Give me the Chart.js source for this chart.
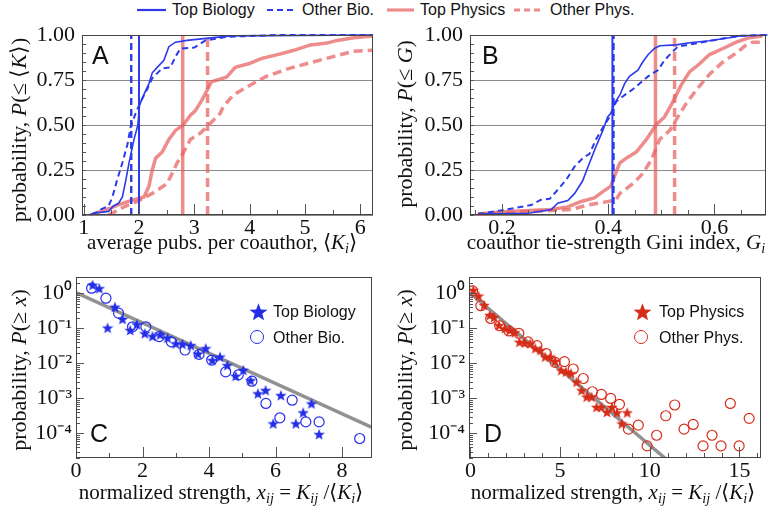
<!DOCTYPE html>
<html>
<head>
<meta charset="utf-8">
<script src="https://cdn.jsdelivr.net/npm/chart.js@4.4.0/dist/chart.umd.min.js"></script>
<style>
  body { margin: 0; background: #fff; }
  #wrap { position: relative; width: 768px; height: 509px; overflow: hidden; font-family: "Liberation Serif", serif; color: #111; }
  #wrap canvas.chart { position: absolute; }
  .t { position: absolute; white-space: nowrap; line-height: 1; }
  .serif { font-family: "Liberation Serif", serif; font-size: 21px; }
  .ser22 { font-family: "Liberation Serif", serif; font-size: 22px; }
  .sans { font-family: "Liberation Sans", Arial, sans-serif; font-size: 16px; }
  .letter { font-family: "Liberation Sans", Arial, sans-serif; font-size: 25px; }
  .yt { transform: translate(-50%, -50%) rotate(-90deg); }
  .xt { transform: translate(-50%, -50%); }
  .lt { transform: translateY(-50%); }
  sub { font-size: 68%; vertical-align: -0.3em; line-height: 0; }
</style>
</head>
<body>
<div id="wrap"></div>
<script>
// ---- data ----
// panel A: cumulative distribution of average pubs per coauthor
const aTopBio = [[1.1,0],[1.17,0.01],[1.45,0.02],[1.54,0.05],[1.63,0.065],[1.70,0.10],[1.76,0.19],[1.82,0.29],[1.91,0.42],[1.98,0.50],[2.01,0.61],[2.09,0.67],[2.18,0.73],[2.24,0.79],[2.33,0.82],[2.45,0.86],[2.54,0.935],[2.66,0.96],[2.87,0.97],[3.17,0.98],[3.66,0.995],[6.23,1.0]];
const aOtherBio = [[1.15,0],[1.30,0.03],[1.45,0.05],[1.52,0.10],[1.61,0.20],[1.70,0.29],[1.79,0.39],[1.85,0.49],[1.94,0.565],[2.03,0.63],[2.15,0.70],[2.24,0.76],[2.42,0.815],[2.57,0.82],[2.66,0.88],[2.75,0.925],[3.0,0.93],[3.2,0.97],[3.6,0.99],[4.5,1.0],[6.23,1.0]];
const aTopPhys = [[1.14,0],[1.3,0.02],[1.5,0.04],[1.61,0.055],[1.85,0.08],[2.09,0.10],[2.18,0.16],[2.24,0.25],[2.30,0.315],[2.42,0.35],[2.54,0.42],[2.66,0.47],[2.80,0.50],[2.93,0.555],[3.02,0.58],[3.14,0.64],[3.26,0.71],[3.31,0.74],[3.58,0.765],[3.74,0.82],[3.98,0.84],[4.22,0.87],[4.56,0.895],[4.80,0.915],[5.10,0.945],[5.40,0.955],[5.58,0.97],[5.88,0.985],[6.23,0.995]];
const aOtherPhys = [[1.45,0],[1.73,0.045],[2.0,0.08],[2.24,0.12],[2.51,0.175],[2.69,0.29],[2.81,0.35],[2.93,0.42],[3.11,0.455],[3.26,0.50],[3.47,0.565],[3.52,0.60],[3.70,0.665],[4.00,0.72],[4.30,0.77],[4.72,0.815],[5.15,0.85],[5.51,0.88],[5.88,0.91],[6.23,0.915]];
const aMedians = [2.0, 1.86, 2.79, 3.24];   // Top Bio, Other Bio, Top Phys, Other Phys

// panel B: cumulative distribution of Gini index
const bTopBio = [[0.155,0.005],[0.25,0.01],[0.293,0.03],[0.305,0.065],[0.324,0.08],[0.337,0.12],[0.352,0.19],[0.365,0.29],[0.377,0.38],[0.39,0.47],[0.399,0.545],[0.405,0.565],[0.412,0.62],[0.422,0.667],[0.431,0.73],[0.44,0.77],[0.456,0.805],[0.465,0.85],[0.475,0.89],[0.487,0.925],[0.497,0.94],[0.528,0.945],[0.553,0.957],[0.59,0.968],[0.628,0.985],[0.647,0.995],[0.70,1.0]];
const bOtherBio = [[0.155,0.005],[0.217,0.035],[0.255,0.055],[0.274,0.085],[0.29,0.09],[0.305,0.14],[0.321,0.195],[0.337,0.27],[0.352,0.315],[0.365,0.34],[0.377,0.42],[0.393,0.50],[0.405,0.555],[0.415,0.63],[0.428,0.66],[0.447,0.70],[0.475,0.77],[0.494,0.805],[0.506,0.86],[0.519,0.90],[0.531,0.935],[0.572,0.957],[0.616,0.98],[0.647,0.995],[0.70,1.0]];
const bTopPhys = [[0.155,0.005],[0.211,0.02],[0.292,0.03],[0.324,0.045],[0.349,0.075],[0.374,0.095],[0.39,0.13],[0.405,0.16],[0.415,0.24],[0.422,0.29],[0.434,0.315],[0.453,0.35],[0.472,0.42],[0.49,0.50],[0.506,0.545],[0.522,0.63],[0.537,0.72],[0.553,0.795],[0.572,0.84],[0.59,0.89],[0.616,0.925],[0.641,0.96],[0.666,0.985],[0.69,0.995]];
const bOtherPhys = [[0.155,0.005],[0.33,0.03],[0.361,0.055],[0.40,0.075],[0.415,0.085],[0.422,0.12],[0.447,0.175],[0.465,0.23],[0.481,0.305],[0.497,0.42],[0.516,0.47],[0.528,0.53],[0.547,0.62],[0.566,0.695],[0.59,0.78],[0.616,0.85],[0.641,0.90],[0.66,0.945],[0.672,0.96],[0.697,0.96]];
const bMedians = [0.408, 0.41, 0.489, 0.525];

// panel C: biology tie strength ccdf
const cTopBio = [[0.50,1.73],[0.70,1.39],[0.95,0.104],[1.17,0.41],[1.40,0.185],[1.63,0.089],[1.83,0.13],[2.07,0.072],[2.30,0.060],[2.53,0.067],[2.75,0.054],[3.00,0.037],[3.20,0.036],[3.45,0.033],[3.67,0.019],[3.90,0.027],[4.10,0.0124],[4.33,0.0155],[4.55,0.0089],[4.80,0.0044],[5.03,0.0065],[5.25,0.0033],[5.47,0.00139],[5.70,0.00173],[5.93,0.000194],[6.16,0.00124],[6.61,0.000194],[6.83,0.0004],[7.08,0.00072],[7.31,0.000096]];
const cOtherBio = [[0.47,1.39],[0.90,0.72],[1.28,0.27],[1.70,0.11],[2.10,0.11],[2.50,0.058],[2.87,0.041],[3.28,0.024],[3.70,0.018],[4.08,0.0124],[4.50,0.0057],[4.88,0.0047],[5.29,0.0031],[5.71,0.00072],[6.13,0.00028],[6.50,0.00089],[6.91,0.000214],[7.31,0.000214],[8.53,0.000072]];
const cFit = [[0,1.05],[8.9,0.00015]];

// panel D: physics tie strength ccdf
const dTopPhys = [[0.16,1.24],[0.45,0.85],[0.76,0.46],[1.08,0.24],[1.32,0.21],[1.59,0.124],[1.92,0.10],[2.20,0.089],[2.48,0.077],[2.73,0.041],[3.03,0.039],[3.34,0.037],[3.62,0.027],[3.90,0.024],[4.17,0.0155],[4.45,0.0155],[4.72,0.0117],[5.06,0.0064],[5.33,0.0058],[5.61,0.0052],[5.92,0.0030],[6.20,0.00172],[6.48,0.00112],[6.75,0.00112],[7.03,0.00057],[7.30,0.00057],[7.61,0.00041],[7.89,0.00057],[8.17,0.0004],[8.44,0.000194],[8.74,0.0004]];
const dOtherPhys = [[0.12,1.16],[0.58,0.44],[1.13,0.19],[1.63,0.118],[2.15,0.084],[2.70,0.072],[3.21,0.041],[3.71,0.032],[4.23,0.019],[4.72,0.0107],[5.24,0.0112],[5.73,0.0069],[6.29,0.0037],[6.80,0.00155],[7.30,0.0013],[7.82,0.001],[8.31,0.00068],[8.81,0.000133],[9.36,0.000173],[9.85,0.0000443],[10.38,0.000089],[10.89,0.00032],[11.39,0.00065],[11.91,0.000133],[12.42,0.000181],[12.97,0.0000443],[13.47,0.000089],[13.97,0.0000443],[14.49,0.00072],[14.98,0.0000443],[15.54,0.00027]];
const dFit = [[0,1.0],[11.0,0.000017]];

// tick labels
const probTicks = [0, 0.25, 0.5, 0.75, 1];
const logTicks = [1e-4, 1e-3, 1e-2, 1e-1, 1];
const logTickText = ['10\u207B\u2074', '10\u207B\u00B3', '10\u207B\u00B2', '10\u207B\u00B9', '10\u2070'];
const aTicks = [1, 2, 3, 4, 5, 6];
const bTicks = [0.2, 0.4, 0.6];
const cTicks = [0, 2, 4, 6, 8];
const dTicks = [0, 5, 10, 15];

// ---- styling ----
const BLUE = 'rgb(45,58,235)';
const SALMON = 'rgba(232,95,95,0.72)';
const DOT_BLUE = 'rgb(35,45,232)';
const DOT_RED = 'rgb(214,45,25)';
const GREY = 'rgba(140,140,140,0.95)';
const tickFont = { family: 'Liberation Serif', size: 22 };

const wrap = document.getElementById('wrap');

function pts(arr) { return arr.map(p => ({ x: p[0], y: p[1] })); }

function starImg(size, color) {
  const c = document.createElement('canvas');
  c.width = c.height = size;
  const g = c.getContext('2d');
  const cx = size / 2, cy = size / 2 + size * 0.06, R = size / 2, r = R * 0.42;
  g.fillStyle = color;
  g.beginPath();
  for (let i = 0; i < 10; i++) {
    const a = -Math.PI / 2 + i * Math.PI / 5;
    const rad = i % 2 ? r : R;
    g.lineTo(cx + rad * Math.cos(a), cy + rad * Math.sin(a));
  }
  g.closePath();
  g.fill();
  return c;
}

// frame + inward ticks like the original figure
const frameTicks = {
  id: 'frameTicks',
  afterDraw(chart, args, o) {
    const { ctx, chartArea: a, scales } = chart;
    const xs = scales.x, ys = scales.y;
    ctx.save();
    ctx.strokeStyle = '#555';
    ctx.lineWidth = 1;
    ctx.beginPath();
    for (let i = 0; ; i++) {
      const v = o.xFrom + i * o.xMinor;
      if (v > xs.max + 1e-9) break;
      if (v < xs.min) continue;
      const p = Math.round(xs.getPixelForValue(v)) + 0.5;
      const r = v / o.xMajor;
      const len = Math.abs(r - Math.round(r)) < 1e-6 ? 11 : 5;
      ctx.moveTo(p, a.bottom); ctx.lineTo(p, a.bottom - len);
    }
    if (o.log) {
      for (let d = -5; d <= 0; d++) {
        for (let k = 1; k <= 9; k++) {
          const v = k * Math.pow(10, d);
          if (v < ys.min || v > ys.max) continue;
          const p = Math.round(ys.getPixelForValue(v)) + 0.5;
          const len = k === 1 ? 8 : 4;
          ctx.moveTo(a.left, p); ctx.lineTo(a.left + len, p);
        }
      }
    } else {
      for (let i = 0; i <= 20; i++) {
        const v = i * 0.05;
        const p = Math.round(ys.getPixelForValue(v)) + 0.5;
        ctx.moveTo(a.left, p); ctx.lineTo(a.left + 4, p);
      }
    }
    ctx.stroke();
    ctx.strokeStyle = '#444';
    ctx.strokeRect(a.left + 0.5, a.top + 0.5, a.width - 1, a.height - 1);
    ctx.restore();
  }
};

function makeChart(box, datasets, sx, sy, tickOpts) {
  const c = document.createElement('canvas');
  c.className = 'chart';
  c.width = box.w; c.height = box.h;
  c.style.left = box.x + 'px'; c.style.top = box.y + 'px';
  wrap.appendChild(c);
  new Chart(c, {
    type: 'scatter',
    data: { datasets: datasets },
    plugins: [frameTicks],
    options: {
      responsive: false,
      animation: false,
      layout: { padding: { top: box.pt, right: box.pr, left: 0, bottom: 0 } },
      plugins: { legend: { display: false }, tooltip: { enabled: false }, frameTicks: tickOpts },
      scales: {
        x: {
          type: 'linear', min: sx.min, max: sx.max,
          afterBuildTicks: s => { s.ticks = sx.ticks.map(v => ({ value: v })); },
          afterFit: s => { s.height = box.xh; s.paddingLeft = 0; s.paddingRight = 0; },
          grid: { display: false, drawTicks: false },
          border: { display: false },
          ticks: { font: tickFont, color: '#111', padding: 0, maxRotation: 0, autoSkip: false,
                   callback: v => String(v) }
        },
        y: {
          type: sy.log ? 'logarithmic' : 'linear', min: sy.min, max: sy.max,
          afterBuildTicks: s => { s.ticks = sy.ticks.map(v => ({ value: v })); },
          afterFit: s => { s.width = box.yw; s.paddingTop = 0; s.paddingBottom = 0; },
          grid: { display: !sy.log, drawTicks: false, color: '#8a8a8a', lineWidth: 1 },
          border: { display: false },
          ticks: { font: tickFont, color: '#111', padding: sy.log ? 4 : 7, autoSkip: false,
                   callback: sy.label }
        }
      }
    }
  });
}

function cdfSets(top1, oth1, top2, oth2, med) {
  const line = (d, color, w, dash) => ({
    data: pts(d), showLine: true, borderColor: color, borderWidth: w, borderDash: dash,
    pointRadius: 0, fill: false, tension: 0, clip: 3
  });
  const vline = (x, color, w, dash) => line([[x, 0], [x, 1]], color, w, dash);
  return [
    line(top1, BLUE, 1.6, []),
    line(oth1, BLUE, 2, [6, 4]),
    vline(med[0], BLUE, 2, []),
    vline(med[1], BLUE, 2.4, [7, 4]),
    line(top2, SALMON, 3.5, []),
    line(oth2, SALMON, 3.5, [9, 5]),
    vline(med[2], SALMON, 3.5, []),
    vline(med[3], SALMON, 3.5, [9, 5])
  ];
}

function scatterSets(topD, othD, fit, color) {
  return [
    { data: pts(topD), pointStyle: starImg(12, color), pointRadius: 6, showLine: false },
    { data: pts(othD), pointStyle: 'circle', pointRadius: 5, borderColor: color, borderWidth: 1.2,
      backgroundColor: 'rgba(0,0,0,0)', showLine: false },
    { data: pts(fit), showLine: true, pointRadius: 0, borderColor: GREY, borderWidth: 3.5, clip: 0 }
  ];
}

const probLabel = v => v.toFixed(2);
const logLabel = v => { const i = logTicks.findIndex(t => Math.abs(t - v) / t < 1e-6); return i < 0 ? null : logTickText[i]; };

// panel A
makeChart({ x: 0, y: 25, w: 384, h: 225, pt: 10, pr: 11, yw: 82, xh: 35 },
  cdfSets(aTopBio, aOtherBio, aTopPhys, aOtherPhys, aMedians),
  { min: 0.97, max: 6.23, ticks: aTicks },
  { min: 0, max: 1, ticks: probTicks, label: probLabel },
  { xFrom: 1, xMinor: 0.5, xMajor: 1 });

// panel B
makeChart({ x: 384, y: 25, w: 384, h: 225, pt: 10, pr: 2, yw: 86, xh: 35 },
  cdfSets(bTopBio, bOtherBio, bTopPhys, bOtherPhys, bMedians),
  { min: 0.14, max: 0.697, ticks: bTicks },
  { min: 0, max: 1, ticks: probTicks, label: probLabel },
  { xFrom: 0.15, xMinor: 0.05, xMajor: 0.2 });

// panel C
makeChart({ x: 0, y: 260, w: 384, h: 230, pt: 17, pr: 12, yw: 76, xh: 32 },
  scatterSets(cTopBio, cOtherBio, cFit, DOT_BLUE),
  { min: 0, max: 8.9, ticks: cTicks },
  { log: true, min: 2e-5, max: 2.9, ticks: logTicks, label: logLabel },
  { xFrom: 0, xMinor: 1, xMajor: 2, log: true });

// panel D
makeChart({ x: 384, y: 260, w: 384, h: 230, pt: 17, pr: 4, yw: 85, xh: 32 },
  scatterSets(dTopPhys, dOtherPhys, dFit, DOT_RED),
  { min: -0.08, max: 16.2, ticks: dTicks },
  { log: true, min: 2e-5, max: 2.9, ticks: logTicks, label: logLabel },
  { xFrom: 0, xMinor: 1, xMajor: 5, log: true });

// ---- text overlays ----
function put(html, x, y, cls) {
  const d = document.createElement('div');
  d.className = 't ' + cls;
  d.style.left = x + 'px'; d.style.top = y + 'px';
  d.innerHTML = html;
  wrap.appendChild(d);
  return d;
}

// axis titles
put('probability, <i>P</i>(\u2264 \u27E8<i>K</i>\u27E9)', 19, 130, 'ser22 yt');
put('probability, <i>P</i>(\u2264 <i>G</i>)', 405, 124, 'ser22 yt');
put('probability, <i>P</i>(\u2265 <i>x</i>)', 19, 370, 'ser22 yt');
put('probability, <i>P</i>(\u2265 <i>x</i>)', 405, 370, 'ser22 yt');
put('average pubs. per coauthor, \u27E8<i>K<sub>i</sub></i>\u27E9', 222, 242, 'serif xt');
put('coauthor tie-strength Gini index, <i>G<sub>i</sub></i>', 616, 242, 'serif xt');
put('normalized strength, <i>x<sub>ij</sub></i> = <i>K<sub>ij</sub></i> /\u27E8<i>K<sub>i</sub></i>\u27E9', 221, 492, 'serif xt');
put('normalized strength, <i>x<sub>ij</sub></i> = <i>K<sub>ij</sub></i> /\u27E8<i>K<sub>i</sub></i>\u27E9', 613, 492, 'serif xt');

// panel letters
put('A', 92, 43, 'letter');
put('B', 482, 43, 'letter');
put('C', 90, 421, 'letter');
put('D', 484, 421, 'letter');

// top legend
function legLine(x1, x2, y, color, w, dash) {
  const ns = 'http://www.w3.org/2000/svg';
  const s = document.createElementNS(ns, 'svg');
  s.setAttribute('width', x2 - x1); s.setAttribute('height', 10);
  s.style.position = 'absolute'; s.style.left = x1 + 'px'; s.style.top = (y - 5) + 'px';
  const l = document.createElementNS(ns, 'line');
  l.setAttribute('x1', 0); l.setAttribute('x2', x2 - x1); l.setAttribute('y1', 5); l.setAttribute('y2', 5);
  l.setAttribute('stroke', color); l.setAttribute('stroke-width', w);
  if (dash) l.setAttribute('stroke-dasharray', dash);
  s.appendChild(l);
  wrap.appendChild(s);
}
const legendNames = ['Top Biology', 'Other Bio.', 'Top Physics', 'Other Phys.'];
legLine(137, 166, 10, BLUE, 2.2, null);
put(legendNames[0], 172, 10, 'sans lt');
legLine(267, 295, 10, BLUE, 2.2, '6 4');
put(legendNames[1], 302, 10, 'sans lt');
legLine(387, 414, 10, SALMON, 3.2, null);
put(legendNames[2], 420, 10, 'sans lt');
legLine(514, 543, 10, SALMON, 3.2, '6 4');
put(legendNames[3], 550, 10, 'sans lt');

// in-panel legends
function legStar(cx, cy, color) {
  const s = starImg(19, color);
  s.style.position = 'absolute'; s.style.left = (cx - 9.5) + 'px'; s.style.top = (cy - 9.5) + 'px';
  wrap.appendChild(s);
}
function legCircle(cx, cy, color) {
  const d = document.createElement('div');
  d.style.cssText = 'position:absolute;width:12px;height:12px;border-radius:50%;border:1.6px solid ' + color +
    ';left:' + (cx - 7.6) + 'px;top:' + (cy - 7.6) + 'px;';
  wrap.appendChild(d);
}
legStar(258, 311, DOT_BLUE);
put(legendNames[0], 273, 312, 'sans lt');
legCircle(258, 338, DOT_BLUE);
put(legendNames[1], 273, 338, 'sans lt');
legStar(642, 311, DOT_RED);
put(legendNames[2], 659, 312, 'sans lt');
legCircle(642, 338, DOT_RED);
put(legendNames[3], 659, 338, 'sans lt');
</script>
</body>
</html>
